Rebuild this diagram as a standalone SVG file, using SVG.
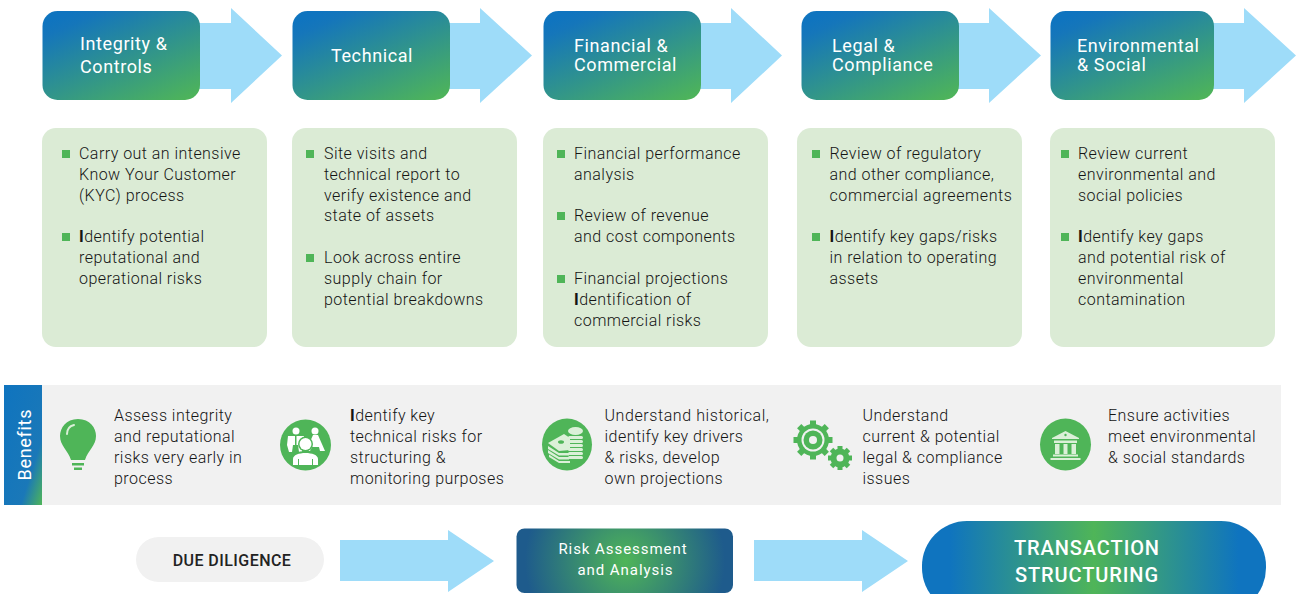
<svg xmlns="http://www.w3.org/2000/svg" width="1299" height="594" viewBox="0 0 1299 594">
<style>
text{font-family:"Roboto","Liberation Sans",sans-serif}
.h{fill:#fff;font-size:18px;letter-spacing:.6px}
.b{fill:#141414;font-size:16px;font-weight:300;letter-spacing:.46px}
.c{fill:#dbebd5}
.a{fill:#9edcf9}
.g{fill:#4fb558}
.l{fill:#dbf0d8}
.i{font-weight:700}
</style>
<defs>
<linearGradient id="gd" x1="0.12" y1="0.05" x2="0.88" y2="1.05"><stop offset="0" stop-color="#0f74bf"/><stop offset="0.1" stop-color="#1576ba"/><stop offset="1" stop-color="#4fb558"/></linearGradient>
<linearGradient id="gb" x1="0" y1="0" x2="1" y2="1"><stop offset="0" stop-color="#0f74bf"/><stop offset="0.72" stop-color="#1a78b8"/><stop offset="1" stop-color="#4fb558"/></linearGradient>
<radialGradient id="gr" gradientUnits="userSpaceOnUse" cx="625" cy="561" r="100"><stop offset="0" stop-color="#4fb558"/><stop offset="1" stop-color="#1e5b8c"/></radialGradient>
<linearGradient id="gt" x1="0" y1="0" x2="1" y2="0"><stop offset="0.08" stop-color="#0f74bf"/><stop offset="0.5" stop-color="#4fb558"/><stop offset="0.92" stop-color="#0f74bf"/></linearGradient>
</defs>
<rect x="4" y="385" width="38" height="120" fill="url(#gb)"/>
<rect x="42" y="385" width="1239" height="120" fill="#f1f1f1"/>
<g id="connectors">
<path class="a" d="M195 23H231V8L282 55.500L231 103V89H195Z"/>
<path class="a" d="M445 23H480V8L532 55.500L480 103V89H445Z"/>
<path class="a" d="M696 23H731V8L782 55.500L731 103V89H696Z"/>
<path class="a" d="M954 23H989V8L1041 55.500L989 103V89H954Z"/>
<path class="a" d="M1209 23H1244V8L1296 55.500L1244 103V89H1209Z"/>
<path class="a" d="M340 540H448V530L494 561L448 592V581H340Z"/>
<path class="a" d="M754 540H862V530L908 561L862 592V581H754Z"/>
</g>
<g id="n1"><rect x="42.500" y="11" width="157.500" height="89" rx="15" fill="url(#gd)"/><text class="h"><tspan x="80" y="50">Integrity &amp;</tspan><tspan x="80" y="73">Controls</tspan></text></g>
<g id="n2"><rect x="292.500" y="11" width="157.500" height="89" rx="15" fill="url(#gd)"/><text class="h" x="331" y="62">Technical</text></g>
<g id="n3"><rect x="543.500" y="11" width="157.500" height="89" rx="15" fill="url(#gd)"/><text class="h"><tspan x="574" y="51.500">Financial &amp;</tspan><tspan x="574" y="71">Commercial</tspan></text></g>
<g id="n4"><rect x="801.500" y="11" width="157.500" height="89" rx="15" fill="url(#gd)"/><text class="h"><tspan x="832" y="51.500">Legal &amp;</tspan><tspan x="832" y="71">Compliance</tspan></text></g>
<g id="n5"><rect x="1050.500" y="11" width="163.500" height="89" rx="15" fill="url(#gd)"/><text class="h"><tspan x="1077" y="51.500">Environmental</tspan><tspan x="1077" y="71">&amp; Social</tspan></text></g>

<g id="card1"><rect class="c" x="42" y="128" width="225" height="219" rx="14"/>
<rect class="g" x="62" y="150" width="8" height="8"/><rect class="g" x="62" y="233" width="8" height="8"/>
<text class="b"><tspan x="79" y="159">Carry out an intensive</tspan><tspan x="79" y="179.500">Know Your Customer</tspan><tspan x="79" y="200.500">(KYC) process</tspan><tspan x="79" y="242" class="i">I</tspan><tspan>dentify potential</tspan><tspan x="79" y="263">reputational and</tspan><tspan x="79" y="284">operational risks</tspan></text></g>
<g id="card2"><rect class="c" x="292" y="128" width="225" height="219" rx="14"/>
<rect class="g" x="306" y="150" width="8" height="8"/><rect class="g" x="306" y="254" width="8" height="8"/>
<text class="b"><tspan x="324" y="159">Site visits and</tspan><tspan x="324" y="179.500">technical report to</tspan><tspan x="324" y="200.500">verify existence and</tspan><tspan x="324" y="221">state of assets</tspan><tspan x="324" y="263">Look across entire</tspan><tspan x="324" y="284">supply chain for</tspan><tspan x="324" y="304.500">potential breakdowns</tspan></text></g>
<g id="card3"><rect class="c" x="543" y="128" width="225" height="219" rx="14"/>
<rect class="g" x="557" y="150" width="8" height="8"/><rect class="g" x="557" y="212" width="8" height="8"/><rect class="g" x="557" y="275" width="8" height="8"/>
<text class="b"><tspan x="574" y="159">Financial performance</tspan><tspan x="574" y="179.500">analysis</tspan><tspan x="574" y="221">Review of revenue</tspan><tspan x="574" y="242">and cost components</tspan><tspan x="574" y="284">Financial projections</tspan><tspan x="574" y="304.500" class="i">I</tspan><tspan>dentification of</tspan><tspan x="574" y="325.500">commercial risks</tspan></text></g>
<g id="card4"><rect class="c" x="797" y="128" width="225" height="219" rx="14"/>
<rect class="g" x="812" y="150" width="8" height="8"/><rect class="g" x="812" y="233" width="8" height="8"/>
<text class="b"><tspan x="829.500" y="159">Review of regulatory</tspan><tspan x="829.500" y="179.500">and other compliance,</tspan><tspan x="829.500" y="200.500" letter-spacing=".58">commercial agreements</tspan><tspan x="829.500" y="242" class="i">I</tspan><tspan>dentify key gaps/risks</tspan><tspan x="829.500" y="263">in relation to operating</tspan><tspan x="829.500" y="284">assets</tspan></text></g>
<g id="card5"><rect class="c" x="1050" y="128" width="225" height="219" rx="14"/>
<rect class="g" x="1061" y="150" width="8" height="8"/><rect class="g" x="1061" y="233" width="8" height="8"/>
<text class="b"><tspan x="1078" y="159">Review current</tspan><tspan x="1078" y="179.500">environmental and</tspan><tspan x="1078" y="200.500">social policies</tspan><tspan x="1078" y="242" class="i">I</tspan><tspan>dentify key gaps</tspan><tspan x="1078" y="263">and potential risk of</tspan><tspan x="1078" y="284">environmental</tspan><tspan x="1078" y="304.500">contamination</tspan></text></g>

<g id="benefits"><text transform="translate(31 480.500) rotate(-90)" fill="#fff" font-size="18" letter-spacing=".7">Benefits</text></g>

<g id="b1">
<path class="g" d="M78 419C66 419 60 428 60 436C60 446 68 450 71 460H85C88 450 96 446 96 436C96 428 90 419 78 419Z"/>
<path class="g" d="M72 463H84V465.500H72ZM74 467.500H82V470H74Z"/>
<path d="M67 434C67 429 70 426 74 425" fill="none" stroke="#dbf0d8" stroke-width="2" stroke-linecap="round"/>
<text class="b"><tspan x="114" y="421">Assess integrity</tspan><tspan x="114" y="442">and reputational</tspan><tspan x="114" y="463">risks very early in</tspan><tspan x="114" y="484">process</tspan></text></g>
<g id="b2">
<circle class="g" cx="305.500" cy="445" r="25.500"/>
<g fill="#fff"><circle cx="296" cy="431" r="3.500"/><path d="M288 436H304L302 452H299L298 445H293L292 452H289L287 445Z"/><circle cx="315" cy="431" r="3.500"/><path d="M313 435H318L325 451H320L319 447H312L310 451H306Z"/></g>
<g class="g"><rect x="295" y="436" width="1.500" height="12"/></g>
<circle cx="305.500" cy="444" r="7.500" class="g"/>
<path d="M291 466V459C291 454 298 451 305.500 451C313 451 320 454 320 459V466Z" class="g"/>
<g fill="#fff"><circle cx="305.500" cy="444" r="6"/><path d="M293 465V459C293 455 299 453 305.500 453C312 453 318 455 318 459V465H313V459H312V465H299V459H298V465Z"/></g>
<text class="b"><tspan x="350" y="421" class="i">I</tspan><tspan>dentify key</tspan><tspan x="350" y="442">technical risks for</tspan><tspan x="350" y="463">structuring &amp;</tspan><tspan x="350" y="484">monitoring purposes</tspan></text></g>
<g id="b3">
<ellipse class="g" cx="567" cy="444.500" rx="25" ry="26"/>
<g class="l"><path d="M548 443L564 434L570 438V450L559 451Z"/><path d="M548 446L559 453H569V455.500H559L548 449Z"/><path d="M548 450L559 457H569V459.500H559L548 453Z"/><path d="M549 454.500L559 461H570V463H559L549 457Z"/>
<ellipse cx="575.500" cy="431" rx="7.500" ry="4"/><rect x="568" y="436" width="15" height="3" rx="1.500"/><rect x="568" y="440" width="15" height="3" rx="1.500"/><rect x="568" y="444" width="15" height="3" rx="1.500"/><rect x="568" y="448" width="15" height="3" rx="1.500"/><rect x="568" y="452" width="15" height="3" rx="1.500"/><rect x="568" y="456" width="15" height="3" rx="1.500"/></g>
<ellipse class="g" cx="561" cy="442" rx="3" ry="1.800"/>
<text class="b"><tspan x="604.500" y="421" letter-spacing=".58">Understand historical,</tspan><tspan x="604.500" y="442">identify key drivers</tspan><tspan x="604.500" y="463">&amp; risks, develop</tspan><tspan x="604.500" y="484">own projections</tspan></text></g>
<g id="b4">
<g class="g"><rect x="810" y="420.500" width="6" height="39"/><rect x="810" y="420.500" width="6" height="39" transform="rotate(45 813 440)"/><rect x="810" y="420.500" width="6" height="39" transform="rotate(90 813 440)"/><rect x="810" y="420.500" width="6" height="39" transform="rotate(135 813 440)"/>
<rect x="837.500" y="446" width="5" height="24"/><rect x="837.500" y="446" width="5" height="24" transform="rotate(45 840 458)"/><rect x="837.500" y="446" width="5" height="24" transform="rotate(90 840 458)"/><rect x="837.500" y="446" width="5" height="24" transform="rotate(135 840 458)"/>
<circle cx="813" cy="440" r="16"/><circle cx="840" cy="458" r="9.500"/></g>
<circle cx="813" cy="440" r="11.500" fill="#f1f1f1"/><circle cx="813" cy="440" r="9.500" class="g"/><circle cx="813" cy="440" r="4" fill="#f1f1f1"/>
<circle cx="840" cy="458" r="3.500" fill="#f1f1f1"/>
<text class="b"><tspan x="862.500" y="421">Understand</tspan><tspan x="862.500" y="442">current &amp; potential</tspan><tspan x="862.500" y="463">legal &amp; compliance</tspan><tspan x="862.500" y="484">issues</tspan></text></g>
<g id="b5">
<ellipse class="g" cx="1065.500" cy="444.500" rx="25.500" ry="26"/>
<g class="l"><path d="M1065.500 431L1079 438V439H1052V438Z"/><rect x="1054" y="440.500" width="23" height="2.500"/><rect x="1055" y="444" width="4.500" height="10"/><rect x="1063.500" y="444" width="4" height="10"/><rect x="1071.500" y="444" width="4.500" height="10"/><rect x="1053" y="454.500" width="25" height="2"/><rect x="1050.500" y="458" width="30" height="2"/></g>
<circle class="g" cx="1065.500" cy="435" r="1.200"/>
<text class="b"><tspan x="1108" y="421">Ensure activities</tspan><tspan x="1108" y="442">meet environmental</tspan><tspan x="1108" y="463">&amp; social standards</tspan></text></g>

<g id="n6"><rect x="136" y="537" width="188" height="45" rx="22.500" fill="#f1f1f1"/><text x="232" y="566" text-anchor="middle" fill="#222" font-size="16" font-weight="500" letter-spacing=".45">DUE DILIGENCE</text></g>
<g id="n7"><rect x="516.500" y="528.500" width="216.500" height="64.500" rx="8" fill="url(#gr)"/><text fill="#fff" font-size="15" letter-spacing=".95" text-anchor="middle"><tspan x="623" y="554">Risk Assessment</tspan><tspan x="625.500" y="575">and Analysis</tspan></text></g>
<g id="n8"><rect x="922" y="521" width="344" height="92" rx="45" fill="url(#gt)"/><text fill="#fff" font-size="20" font-weight="500" letter-spacing=".9" text-anchor="middle"><tspan x="1087" y="555">TRANSACTION</tspan><tspan x="1087" y="581.500">STRUCTURING</tspan></text></g>
</svg>
